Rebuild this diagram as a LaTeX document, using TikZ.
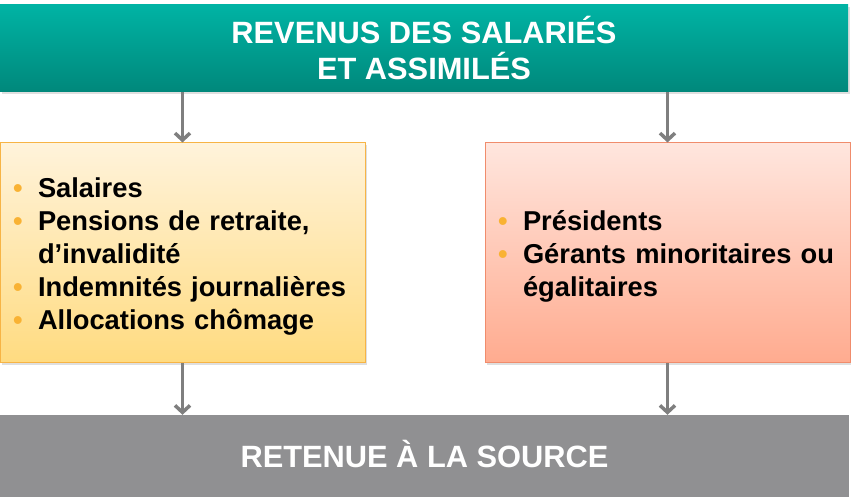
\documentclass[tikz,border=0pt]{standalone}
\usepackage{fontspec}
\setmainfont{Liberation Sans}
\usetikzlibrary{arrows.meta, shadows, positioning}

\definecolor{tealhaut}{HTML}{00B3A4}
\definecolor{tealbas}{HTML}{00887B}
\definecolor{jaunehaut}{HTML}{FFF3DB}
\definecolor{jaunebas}{HTML}{FFDB80}
\definecolor{jaunebord}{HTML}{F7B445}
\definecolor{rosehaut}{HTML}{FFE6DE}
\definecolor{rosebas}{HTML}{FFAB8F}
\definecolor{rosebord}{HTML}{F08C6C}
\definecolor{gris}{HTML}{909092}
\definecolor{fleche}{HTML}{7F7F7F}
\definecolor{puce}{HTML}{F9B233}

\newcommand{\puce}{\makebox[25pt][l]{\textcolor{puce}{\textbullet}}}
\newcommand{\suite}{\hspace*{25pt}}
\newcommand{\haut}{\rule{0pt}{27pt}}

\begin{document}
\begin{tikzpicture}[x=1pt,y=-1pt,>={Straight Barb[length=7pt,width=15pt]}]
	\tikzset{
		bandeau/.style={minimum width=848pt, minimum height=87pt, inner sep=0pt,
			text=white, align=center, font=\bfseries\fontsize{30.8}{36}\selectfont},
		cadre/.style={minimum width=365pt, minimum height=220pt, inner xsep=13pt,
			text width=339pt, align=left, line width=1pt,
			font=\bfseries\fontsize{27.3}{33}\selectfont,
			drop shadow={shadow xshift=1.5pt, shadow yshift=-2pt, opacity=0.25}},
		fleche/.style={->, draw=fleche, line width=3.5pt}
	}
	\useasboundingbox (0,0) rectangle (851,502);
	\node[bandeau, top color=tealhaut, bottom color=tealbas,
		drop shadow={shadow xshift=1.5pt, shadow yshift=-2pt, opacity=0.25}]
		(revenus) at (424,48.5) {REVENUS DES SALARIÉS\\ET ASSIMILÉS};
	\node[cadre, draw=jaunebord, top color=jaunehaut, bottom color=jaunebas]
		(salaires) at (182.5,253) {\haut\puce Salaires\\
		\puce Pensions de retraite,\\
		\suite d’invalidité\\
		\puce Indemnités journalières\\
		\puce Allocations chômage};
	\node[cadre, draw=rosebord, top color=rosehaut, bottom color=rosebas]
		(dirigeants) at (667.5,253) {\haut\puce Présidents\\
		\puce Gérants minoritaires ou\\
		\suite égalitaires};
	\node[bandeau, fill=gris, minimum width=849pt, minimum height=82pt,
		text height=22pt, text depth=0pt]
		(retenue) at (424.5,456) {RETENUE À LA SOURCE};
	\draw[fleche] (revenus.south -| salaires.north) -- (salaires.north);
	\draw[fleche] (revenus.south -| dirigeants.north) -- (dirigeants.north);
	\draw[fleche] (salaires.south) -- (retenue.north -| salaires.south);
	\draw[fleche] (dirigeants.south) -- (retenue.north -| dirigeants.south);
\end{tikzpicture}
\end{document}
